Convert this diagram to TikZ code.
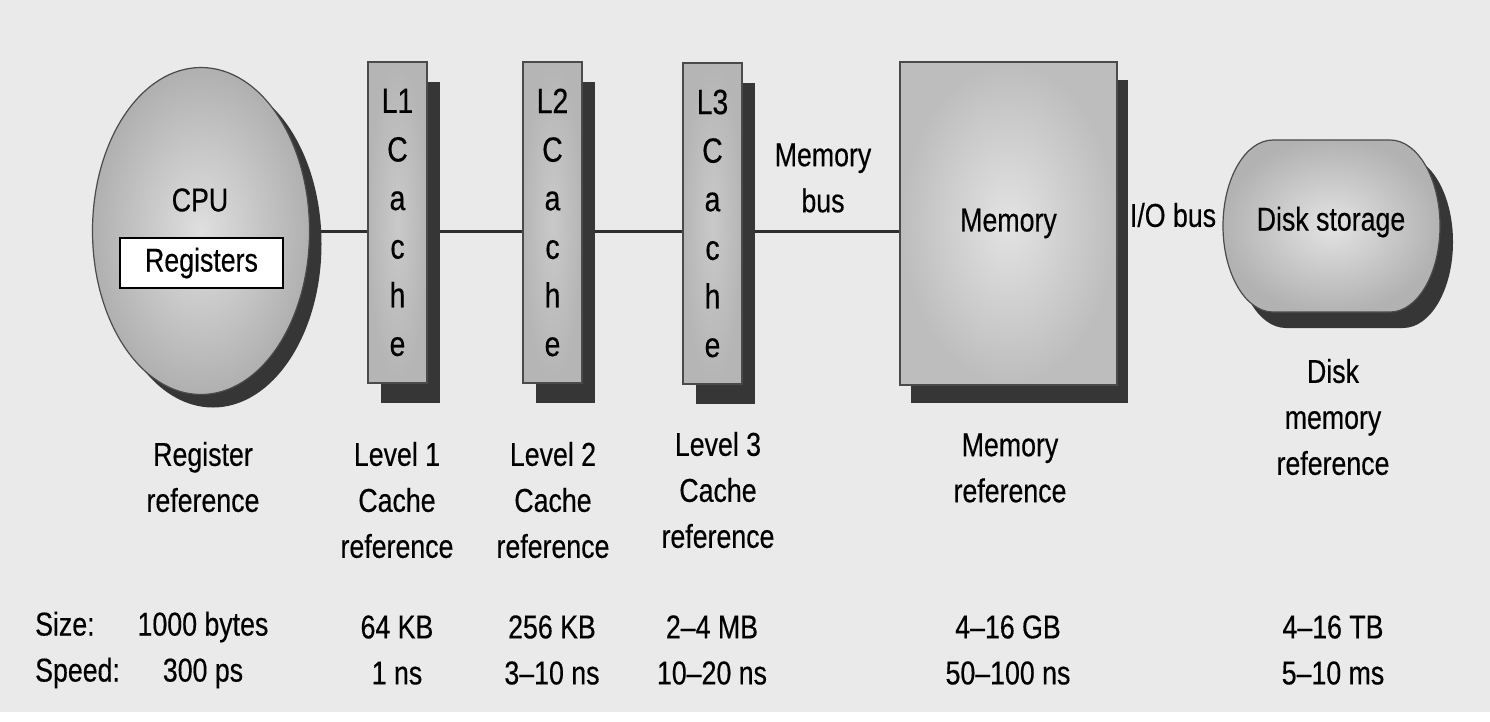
\documentclass[tikz,border=0pt]{standalone}
\usepackage{fontspec}
\setmainfont{Liberation Sans}[FakeStretch=0.81, FakeBold=0.4]
\usetikzlibrary{shapes.geometric,shadows}

\definecolor{bggray}{HTML}{EAEAEA}
\definecolor{shadowgray}{HTML}{363636}
\definecolor{edgegray}{HTML}{4A4A4A}
\definecolor{busgray}{HTML}{2E2E2E}

\pgfdeclarelayer{bg}
\pgfdeclarelayer{bus}
\pgfsetlayers{bg,bus,main}

\begin{document}
\begin{tikzpicture}[
  x=1pt, y=-1pt,
  every node/.style={inner sep=0pt},
  txt/.style={align=center, font=\fontsize{33}{46}\selectfont},
  cpu/.style={ellipse, draw=edgegray, line width=1.2pt, minimum width=217pt, minimum height=327pt,
    inner color=gray!25, outer color=gray!62,
    drop shadow={shadow xshift=12pt, shadow yshift=-13pt, fill=shadowgray, opacity=1}},
  regbox/.style={draw=black, fill=white, line width=1.5pt, minimum width=163pt, minimum height=50pt, txt},
  cachebox/.style={rectangle, draw=edgegray, line width=1.5pt, minimum width=59pt, minimum height=321pt,
    inner color=gray!42, outer color=gray!58, align=center, font=\fontsize{35}{48.6}\selectfont,
    drop shadow={shadow xshift=13pt, shadow yshift=-20pt, fill=shadowgray, opacity=1}},
  membox/.style={rectangle, draw=edgegray, line width=1.5pt, minimum width=217pt, minimum height=323pt,
    inner color=gray!22, outer color=gray!52, txt,
    drop shadow={shadow xshift=11pt, shadow yshift=-18pt, fill=shadowgray, opacity=1}},
  diskoutline/.style={insert path={(1273,140) -- (1390,140)
    .. controls (1417.6,140) and (1440,178.5) .. (1440,226)
    .. controls (1440,273.5) and (1417.6,312) .. (1390,312)
    -- (1273,312)
    .. controls (1245.4,312) and (1223,273.5) .. (1223,226)
    .. controls (1223,178.5) and (1245.4,140) .. (1273,140) -- cycle}},
  bus/.style={draw=busgray, line width=3pt}
]
\useasboundingbox (0,0) rectangle (1490,721);
\begin{pgfonlayer}{bg}
  \fill[white] (0,0) rectangle (1490,721);
  \fill[bggray] (0,0) rectangle (1490,712);
\end{pgfonlayer}

% CPU with registers
\node[cpu] (cpu) at (201,231) {};
\node[txt] (cpulbl) at (200,200) {CPU};
\node[regbox] (regs) at (201.5,263) {Registers};

% caches
\node[cachebox] (l1) at (397.5,222.5) {L1\\C\\a\\c\\h\\e};
\node[cachebox] (l2) at (552.5,222.5) {L2\\C\\a\\c\\h\\e};
\node[cachebox] (l3) at (712.5,223.5) {L3\\C\\a\\c\\h\\e};

% main memory and disk
\node[membox] (mem) at (1008.5,223.5) {Memory};
\fill[shadowgray, xshift=13pt, yshift=-16pt, diskoutline];
\shade[inner color=gray!22, outer color=gray!60, draw=edgegray, line width=1.2pt, diskoutline];
\node[txt] (disk) at (1331,222) {Disk storage};

% buses
\begin{pgfonlayer}{bus}
  \draw[bus] (cpu.center) -- (cpu.center -| mem.center);
\end{pgfonlayer}
\node[txt] (membus) at (823,178) {Memory\\bus};
\node[txt] (iobus) at (1173,215) {I/O bus};

% reference labels
\node[txt] (regref) at (203,477) {Register\\reference};
\node[txt] (l1ref) at (397,500) {Level 1\\Cache\\reference};
\node[txt] (l2ref) at (553,500) {Level 2\\Cache\\reference};
\node[txt] (l3ref) at (718,490) {Level 3\\Cache\\reference};
\node[txt] (memref) at (1010,468) {Memory\\reference};
\node[txt] (diskref) at (1333,417) {Disk\\memory\\reference};

% size and speed
\node[txt, align=left, anchor=west] (rows) at (35,650) {Size:\\Speed:};
\node[txt] (regnum) at (203,650) {1000 bytes\\300 ps};
\node[txt] (l1num) at (397,650) {64 KB\\1 ns};
\node[txt] (l2num) at (552,650) {256 KB\\3--10 ns};
\node[txt] (l3num) at (712,650) {2--4 MB\\10--20 ns};
\node[txt] (memnum) at (1008,650) {4--16 GB\\50--100 ns};
\node[txt] (disknum) at (1333,650) {4--16 TB\\5--10 ms};
\end{tikzpicture}
\end{document}
